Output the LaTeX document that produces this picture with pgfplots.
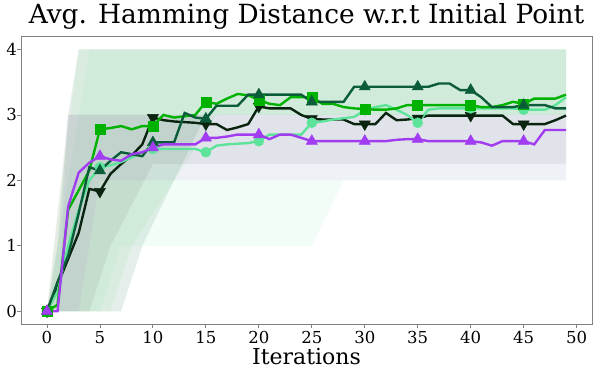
\documentclass[border=0pt]{standalone}
\usepackage{fontspec}
\setmainfont{DejaVu Serif}
\usepackage{pgfplots}
\pgfplotsset{compat=1.18}

\definecolor{cBright}{HTML}{00B200}
\definecolor{cDark}{HTML}{0B5D3A}
\definecolor{cBlack}{HTML}{0A2410}
\definecolor{cLight}{HTML}{5EE39A}
\definecolor{cPurple}{HTML}{A23CF0}
\definecolor{axgray}{HTML}{808080}

% mean curves (x = iteration)
\pgfplotstableread{
x bright dark black light purple
0 0 0 0 0 0
1 0.1 0.45 0.4 0.3 0.0
2 1.55 0.85 0.8 1.0 1.6
3 1.85 1.5 1.2 1.55 2.12
4 2.15 2.2 1.87 2.0 2.27
5 2.78 2.15 1.83 2.2 2.37
6 2.8 2.3 2.1 2.23 2.32
7 2.83 2.43 2.25 2.28 2.3
8 2.78 2.4 2.38 2.35 2.4
9 2.83 2.37 2.55 2.43 2.43
10 2.83 2.58 2.96 2.48 2.5
11 3.0 2.58 2.92 2.48 2.55
12 2.96 2.58 2.9 2.48 2.55
13 2.98 3.03 2.89 2.48 2.55
14 3.0 2.96 2.88 2.48 2.55
15 3.2 2.94 2.86 2.43 2.65
16 3.17 3.14 2.86 2.53 2.65
17 3.25 3.14 2.77 2.55 2.67
18 3.32 3.14 2.81 2.56 2.7
19 3.3 3.31 2.86 2.57 2.7
20 3.23 3.31 3.13 2.6 2.7
21 3.17 3.31 3.1 2.7 2.63
22 3.15 3.31 3.1 2.7 2.7
23 3.27 3.31 3.1 2.7 2.7
24 3.27 3.31 3.0 2.7 2.65
25 3.27 3.2 2.94 2.88 2.6
26 3.17 3.2 2.93 2.9 2.6
27 3.17 3.2 2.93 2.93 2.6
28 3.12 3.2 2.93 2.95 2.6
29 3.1 3.43 2.86 2.97 2.6
30 3.09 3.43 2.86 3.07 2.6
31 3.08 3.43 2.86 3.12 2.6
32 3.08 3.43 3.03 3.15 2.6
33 3.1 3.43 2.92 3.08 2.62
34 3.15 3.43 2.93 3.0 2.63
35 3.15 3.43 2.95 2.88 2.63
36 3.15 3.43 2.99 3.08 2.6
37 3.15 3.48 2.99 3.1 2.6
38 3.15 3.48 2.99 3.1 2.6
39 3.15 3.38 2.99 3.1 2.6
40 3.15 3.38 2.99 3.1 2.6
41 3.12 3.27 2.99 3.1 2.58
42 3.12 3.12 2.99 3.1 2.53
43 3.15 3.12 2.99 3.1 2.6
44 3.2 3.12 2.86 3.1 2.6
45 3.17 3.15 2.86 3.08 2.6
46 3.25 3.15 2.86 3.08 2.55
47 3.25 3.15 2.86 3.08 2.77
48 3.25 3.1 2.92 3.15 2.77
49 3.31 3.1 2.99 3.27 2.77
}\means

\begin{document}
\begin{tikzpicture}
\begin{axis}[
  scale only axis, width=571pt, height=288pt,
  xmin=-2.45, xmax=51.45, ymin=-0.2, ymax=4.2,
  xtick={0,5,...,50}, ytick={0,1,2,3,4},
  axis line style={axgray, line width=0.8pt},
  tick style={axgray, line width=0.8pt},
  tick align=outside, major tick length=3.5pt,
  xtick pos=bottom, ytick pos=left,
  ticklabel style={font=\fontsize{16.5}{18}\selectfont},
  yticklabel style={xshift=3pt},
  /pgf/number format/assume math mode=true,
  title={Avg. Hamming Distance w.r.t Initial Point},
  title style={font=\fontsize{26.4}{30}\selectfont, at={(0.5,1)}, anchor=base, yshift=7pt},
  xlabel={Iterations},
  xlabel style={font=\fontsize{22}{26}\selectfont, at={(0.5,0)}, anchor=base, yshift=-40pt},
  every axis plot/.append style={line width=2.4pt},
]
% spread of the runs
\addplot[draw=none, fill=cDark, fill opacity=0.1] coordinates {
  (0,0) (1,1) (2,3) (3,4) (49,4) (49,3) (15,3) (12,2) (9,1) (7,0)};
\addplot[draw=none, fill=cBright, fill opacity=0.05] coordinates {
  (0,0) (1,1.5) (3,4) (49,4) (49,3) (16,3) (12,2) (8,1) (6,0)};
\addplot[draw=none, fill=cLight, fill opacity=0.08] coordinates {
  (0,0) (2,2) (4,4) (49,4) (49,2) (28,2) (25,1) (7,1) (5,0)};
\addplot[draw=none, fill=black, fill opacity=0.06] coordinates {
  (0,0) (2,3) (49,3) (49,2.25) (10,2.25) (6,1) (4,0)};
\addplot[draw=none, fill=cPurple, fill opacity=0.06] coordinates {
  (0,0) (1,0) (2,3) (49,3) (49,2) (5,2) (3,0)};

% means
\addplot[cBlack, mark=triangle*, mark repeat=5, mark size=6.4pt,
  mark options={rotate=180, line width=0.5pt}] table[x=x, y=black] {\means};
\addplot[cLight, mark=*, mark repeat=5, mark size=5pt,
  mark options={line width=0.5pt}] table[x=x, y=light] {\means};
\addplot[cBright, mark=square*, mark repeat=5, mark size=5pt,
  mark options={line width=0.5pt}] table[x=x, y=bright] {\means};
\addplot[cDark, mark=triangle*, mark repeat=5, mark size=6.4pt,
  mark options={line width=0.5pt}] table[x=x, y=dark] {\means};
\addplot[cPurple, mark=triangle*, mark repeat=5, mark size=6.4pt,
  mark options={line width=0.5pt}] table[x=x, y=purple] {\means};
\end{axis}
\path (current axis.south west) ++(-21pt,-47pt) rectangle ++(598pt,369pt);
\end{tikzpicture}
\end{document}
